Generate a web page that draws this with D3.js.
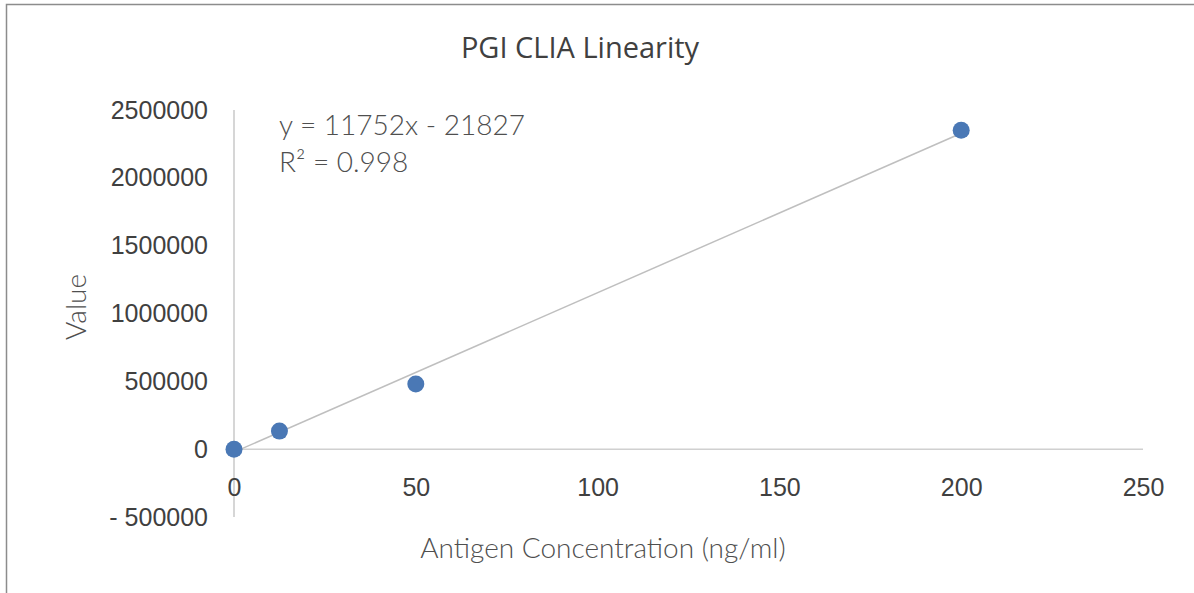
<!DOCTYPE html>
<html lang="en">
<head>
  <meta charset="UTF-8">
  <title>PGI CLIA Linearity</title>
  <style>
    body {
      margin: 0;
      overflow: hidden;
      background: #fff;
    }
    svg text {
      fill: #404040;
    }
    .tick text {
      font-family: "Liberation Sans", Arial, sans-serif;
      font-size: 25px;
    }
    .axis path, .axis line {
      stroke: #c8c8c8;
    }
    .label {
      font-family: Lato, "Open Sans", sans-serif;
      font-size: 28px;
      font-weight: 300;
      fill: #4f4f4f;
    }
  </style>
</head>
<body>
  <svg></svg>
</body>
<script src="https://cdn.jsdelivr.net/npm/d3@7"></script>
<script>
  var width = 1194
  var height = 593

  // data
  var concentration = [0, 12.5, 50, 200]
  var values = [0, 133000, 480000, 2350000]
  var xTicks = [0, 50, 100, 150, 200, 250]
  var yTicks = [-500000, 0, 500000, 1000000, 1500000, 2000000, 2500000]
  var slope = 11752
  var intercept = -21827
  var trendRange = [0, 200]

  var svg = d3.select('svg')
    .attr('width', width)
    .attr('height', height)

  // outer chart border (right/bottom are off-screen)
  svg.append('rect')
    .attr('x', 6.5).attr('y', 4.5)
    .attr('width', 1300).attr('height', 700)
    .attr('fill', 'none')
    .attr('stroke', '#8c8c8c')
    .attr('stroke-width', 1.5)

  var x = d3.scaleLinear().domain([0, 250]).range([234, 1143])
  var y = d3.scaleLinear().domain([-500000, 2500000]).range([517, 110])

  // horizontal axis sits at y = 0, labels at the bottom
  svg.append('line')
    .attr('x1', x(0)).attr('x2', x(250))
    .attr('y1', y(0)).attr('y2', y(0))
    .attr('stroke', '#d0d0d0')
    .attr('stroke-width', 1.5)

  svg.append('line')
    .attr('x1', x(0)).attr('x2', x(0))
    .attr('y1', y(2500000)).attr('y2', y(-500000))
    .attr('stroke', '#c8c8c8')
    .attr('stroke-width', 1.5)

  var xAxis = svg.append('g')
    .attr('class', 'axis')
    .attr('transform', 'translate(0,' + 478 + ')')
    .call(d3.axisBottom(x).tickValues(xTicks).tickSize(0).tickPadding(0))
  xAxis.select('.domain').remove()
  xAxis.selectAll('text').attr('dy', '0.71em')

  var yAxis = svg.append('g')
    .attr('class', 'axis')
    .attr('transform', 'translate(' + 208 + ',0)')
    .call(d3.axisLeft(y).tickValues(yTicks).tickSize(0).tickPadding(0)
      .tickFormat(d => d < 0 ? '- ' + Math.abs(d) : d))
  yAxis.select('.domain').remove()

  // linear trendline
  svg.append('line')
    .attr('x1', x(trendRange[0])).attr('y1', y(slope * trendRange[0] + intercept))
    .attr('x2', x(trendRange[1])).attr('y2', y(slope * trendRange[1] + intercept))
    .attr('stroke', '#bfbfbf')
    .attr('stroke-width', 1.5)

  svg.selectAll('circle')
    .data(concentration)
    .enter()
    .append('circle')
    .attr('cx', d => x(d))
    .attr('cy', (d, i) => y(values[i]))
    .attr('r', 8.5)
    .attr('fill', '#4a78b5')

  // title and labels
  svg.append('text')
    .attr('x', 580).attr('y', 58)
    .attr('text-anchor', 'middle')
    .style('font-family', '"Open Sans", sans-serif')
    .style('font-size', '29px')
    .text('PGI CLIA Linearity')

  svg.append('text')
    .attr('class', 'label')
    .attr('x', 603).attr('y', 558)
    .attr('text-anchor', 'middle')
    .text('Antigen Concentration (ng/ml)')

  svg.append('text')
    .attr('class', 'label')
    .attr('transform', 'translate(' + 86 + ',' + 307 + ') rotate(-90)')
    .attr('text-anchor', 'middle')
    .text('Value')

  svg.append('text')
    .attr('class', 'label')
    .attr('x', 279).attr('y', 135)
    .text('y = ' + slope + 'x - ' + Math.abs(intercept))

  svg.append('text')
    .attr('class', 'label')
    .attr('x', 279).attr('y', 172)
    .text('R² = 0.998')
</script>
</html>
